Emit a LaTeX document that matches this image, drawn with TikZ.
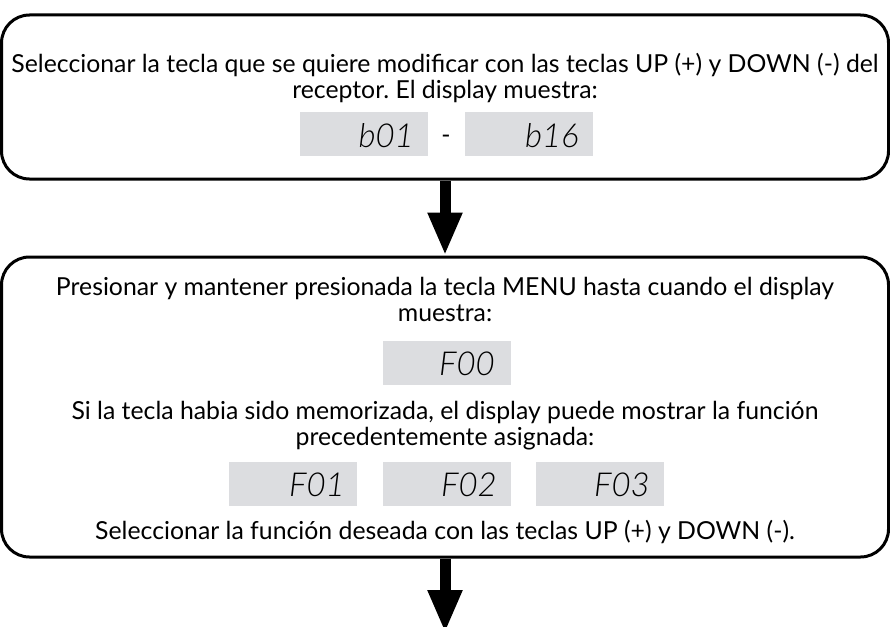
\documentclass[tikz,border=0pt]{standalone}
\usepackage{fontspec}
\setmainfont{Lato}
\IfFontExistsTF{Lato Light Italic}{\newfontfamily\lcdfont{Lato Light Italic}}{\newfontfamily\lcdfont{Lato Italic}}
\frenchspacing
\usetikzlibrary{arrows.meta}
\definecolor{lcdgray}{RGB}{220,221,224}
\tikzset{
  stepbox/.style={draw=black, line width=3pt, rounded corners=28pt, inner sep=0pt},
  txt/.style={anchor=base, inner sep=0pt, font=\fontsize{24.8}{28}\selectfont},
  lcd/.style={fill=lcdgray, draw=none, minimum width=128pt, minimum height=44pt, inner sep=0pt},
  lcdtxt/.style={anchor=base east, inner sep=0pt, font=\fontsize{33}{33}\selectfont\lcdfont},
  bigarrow/.style={line width=11pt, -{Triangle[width=32pt,length=43pt]}},
}
\begin{document}
\begin{tikzpicture}[x=1pt,y=-1pt]
\useasboundingbox (0,0) rectangle (890,626);
\clip (0,0) rectangle (890,626);
% boxes
\node[stepbox, minimum width=887pt, minimum height=164pt] (box1) at (445,97) {};
\node[stepbox, minimum width=887pt, minimum height=300pt] (box2) at (445,407) {};
% box 1 content
\node[txt] (t1a) at (445,72) {Seleccionar la tecla que se quiere modificar con las teclas UP (+) y DOWN (-) del};
\node[txt] (t1b) at (445,98) {receptor. El display muestra:};
\node[lcd] (d1) at (364,134) {};
\node[lcdtxt] (d1t) at (414,147) {b01};
\node[txt] (dash) at (446,143) {-};
\node[lcd] (d2) at (529,134) {};
\node[lcdtxt] (d2t) at (579,147) {b16};
% box 2 content
\node[txt] (t2a) at (445,295) {Presionar y mantener presionada la tecla MENU hasta cuando el display};
\node[txt] (t2b) at (445,321) {muestra:};
\node[lcd] (d3) at (447,362.5) {};
\node[lcdtxt] (d3t) at (495,375) {F00};
\node[txt] (t2c) at (445,419) {Si la tecla habia sido memorizada, el display puede mostrar la función};
\node[txt] (t2d) at (445,445) {precedentemente asignada:};
\node[lcd] (d4) at (293,483.5) {};
\node[lcdtxt] (d4t) at (345,496) {F01};
\node[lcd] (d5) at (447,483.5) {};
\node[lcdtxt] (d5t) at (497,496) {F02};
\node[lcd] (d6) at (600,483.5) {};
\node[lcdtxt] (d6t) at (650,496) {F03};
\node[txt] (t2e) at (445,539) {Seleccionar la función deseada con las teclas UP (+) y DOWN (-).};
% arrows
\coordinate (end) at (445,633);
\draw[bigarrow] (box1.south) -- (box2.north);
\draw[bigarrow] (box2.south) -- (end);
\end{tikzpicture}
\end{document}
